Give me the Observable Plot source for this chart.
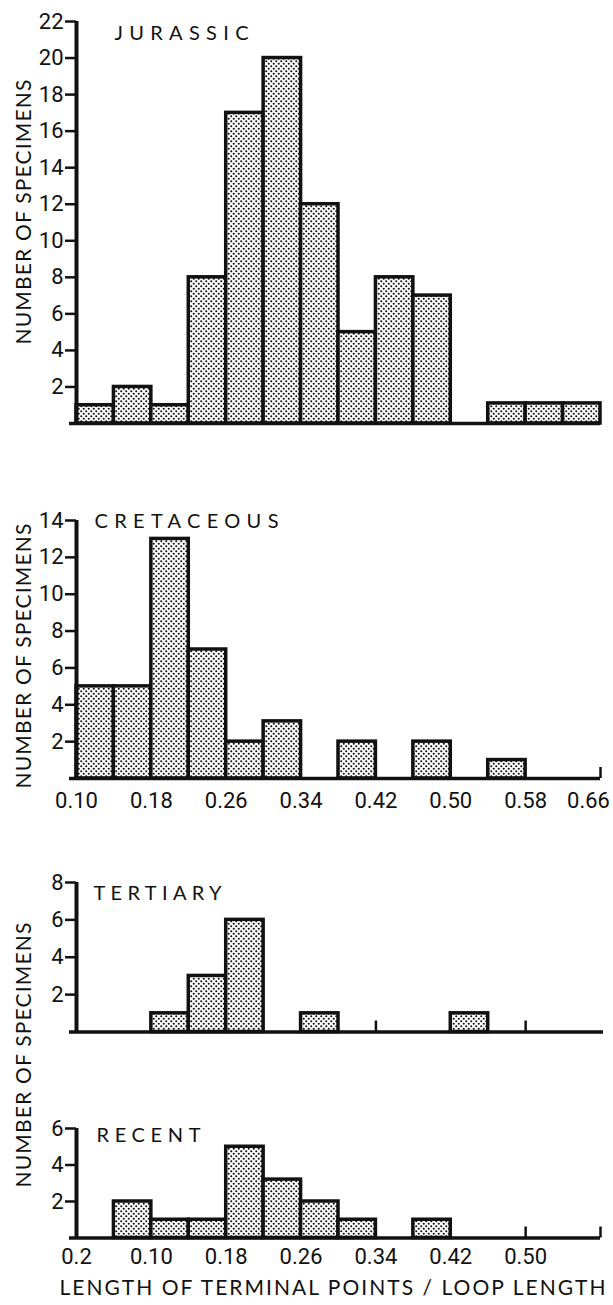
<!DOCTYPE html>
<html>
<head>
<meta charset="utf-8">
<script src="https://cdn.jsdelivr.net/npm/d3@7"></script>
<script src="https://cdn.jsdelivr.net/npm/@observablehq/plot@0.6"></script>
<style>
  html, body { margin: 0; padding: 0; background: #fff; }
  #page { position: relative; width: 613px; height: 1305px; overflow: hidden; background: #fff; }
  #page > svg { position: absolute; left: 0; }
</style>
</head>
<body>
<svg width="0" height="0" style="position:absolute">
  <defs>
    <pattern id="dots" width="5" height="5" patternUnits="userSpaceOnUse">
      <rect width="5" height="5" fill="#fff"></rect>
      <circle cx="1.25" cy="1.25" r="1.05" fill="#111"></circle>
      <circle cx="3.75" cy="3.75" r="1.05" fill="#111"></circle>
    </pattern>
  </defs>
</svg>
<div id="page"></div>
<script>
// ---------- data ----------
const binWidth = 0.04;
const upperBinStarts = [0.10, 0.14, 0.18, 0.22, 0.26, 0.30, 0.34, 0.38, 0.42, 0.46, 0.50, 0.54, 0.58, 0.62];
const lowerBinStarts = [0.02, 0.06, 0.10, 0.14, 0.18, 0.22, 0.26, 0.30, 0.34, 0.38, 0.42, 0.46, 0.50, 0.54];

const jurassicCounts   = [1, 2, 1, 8, 17, 20, 12, 5, 8, 7, 0, 1.1, 1.1, 1.1];
const cretaceousCounts = [5, 5, 13, 7, 2, 3.1, 0, 2, 0, 2, 0, 1, 0, 0];
const tertiaryCounts   = [0, 0, 1, 3, 6, 0, 1, 0, 0, 0, 1, 0, 0, 0];
const recentCounts     = [0, 2, 1, 1, 5, 3.2, 2, 1, 0, 1, 0, 0, 0, 0];

const jurassicYTicks   = [2, 4, 6, 8, 10, 12, 14, 16, 18, 20, 22];
const cretaceousYTicks = [2, 4, 6, 8, 10, 12, 14];
const tertiaryYTicks   = [2, 4, 6, 8];
const recentYTicks     = [2, 4, 6];

const upperXTicks      = [0.10, 0.18, 0.26, 0.34, 0.42, 0.50, 0.58, 0.66];
const upperXTickLabels = ["0.10", "0.18", "0.26", "0.34", "0.42", "0.50", "0.58", "0.66"];
const lowerXTicks      = [0.02, 0.10, 0.18, 0.26, 0.34, 0.42, 0.50];
const lowerXTickLabels = ["0.2", "0.10", "0.18", "0.26", "0.34", "0.42", "0.50"];

const cretaceousTickMarks = [0.66];
const tertiaryTickMarks   = [0.34, 0.50];
const recentTickMarks     = [0.50, 0.58];

const panelNames = ["JURASSIC", "CRETACEOUS", "TERTIARY", "RECENT"];
const yTitle = "NUMBER OF SPECIMENS";
const xTitle = "LENGTH OF TERMINAL POINTS / LOOP LENGTH";

// ---------- layout ----------
const numFont = 'Roboto, "Liberation Sans", sans-serif';
const textFont = 'Lato, "Open Sans", sans-serif';
const INK = "#111";

const panels = [
  { name: panelNames[0], starts: upperBinStarts, counts: jurassicCounts, domain: [0.10, 0.66],
    yMax: 22, yTicks: jurassicYTicks, top: 0, height: 445, mt: 21, mb: 22,
    nameDx: 38, nameDy: 4, nameLen: 134, tickMarks: [] },
  { name: panelNames[1], starts: upperBinStarts, counts: cretaceousCounts, domain: [0.10, 0.66],
    yMax: 14, yTicks: cretaceousYTicks, top: 480, height: 340, mt: 40, mb: 42,
    nameDx: 18, nameDy: -7, nameLen: 184, tickMarks: cretaceousTickMarks,
    xTicks: upperXTicks, xLabels: upperXTickLabels, xPad: 14, lastShift: -12 },
  { name: panelNames[2], starts: lowerBinStarts, counts: tertiaryCounts, domain: [0.02, 0.58],
    yMax: 8, yTicks: tertiaryYTicks, top: 860, height: 190, mt: 22, mb: 18.5,
    nameDx: 17, nameDy: 3, nameLen: 128, tickMarks: tertiaryTickMarks, baseRight: -3 },
  { name: panelNames[3], starts: lowerBinStarts, counts: recentCounts, domain: [0.02, 0.58],
    yMax: 6, yTicks: recentYTicks, top: 1100, height: 205, mt: 28, mb: 67.5,
    nameDx: 20, nameDy: -1, nameLen: 104, tickMarks: recentTickMarks,
    xTicks: lowerXTicks, xLabels: lowerXTickLabels, xPad: 10, xTitle: true }
];

const page = document.getElementById("page");

for (const cfg of panels) {
  const data = cfg.starts
    .map((s, i) => ({ x1: s, x2: s + binWidth, y: cfg.counts[i] }))
    .filter(d => d.y > 0);
  const pxPerUnit = (cfg.height - cfg.mt - cfg.mb) / cfg.yMax;
  const marks = [
    Plot.rectY(data, { x1: "x1", x2: "x2", y1: 0, y2: "y", fill: "url(#dots)", stroke: INK, strokeWidth: 3.5 }),
    Plot.ruleY([0], { stroke: INK, strokeWidth: 3.5, insetLeft: -7, insetRight: cfg.baseRight ?? 0 }),
    Plot.ruleX([cfg.domain[0]], { y1: 0, y2: cfg.yMax, stroke: INK, strokeWidth: 4 }),
    Plot.ruleX(cfg.tickMarks, { x: d => d, y1: 0, y2: 11 / pxPerUnit, stroke: INK, strokeWidth: 2.5 }),
    Plot.axisY({ ticks: cfg.yTicks, tickSize: 11, tickPadding: 2, stroke: INK, strokeWidth: 2.5,
                 fontSize: 22, fill: INK, label: null, tickFormat: d => String(d) }),
    Plot.text([cfg.name], { text: d => d, frameAnchor: "top-left", textAnchor: "start", lineAnchor: "top",
                 dx: cfg.nameDx, dy: cfg.nameDy, fontSize: 20, fontFamily: textFont, fill: INK })
  ];
  if (cfg.xTicks) {
    marks.push(Plot.axisX({ ticks: cfg.xTicks,
      tickFormat: d => cfg.xLabels[cfg.xTicks.findIndex(t => Math.abs(t - d) < 1e-9)],
      tickSize: 0, tickPadding: cfg.xPad, fontSize: 22, fill: INK, label: null }));
  }
  if (cfg.xTitle) {
    marks.push(Plot.text([xTitle], { text: d => d, frameAnchor: "bottom", textAnchor: "middle", lineAnchor: "top",
      dx: -6, dy: 42, fontSize: 21, fontFamily: textFont, fill: INK }));
  }
  const svg = Plot.plot({
    width: 613,
    height: cfg.height,
    marginLeft: 76,
    marginRight: 13,
    marginTop: cfg.mt,
    marginBottom: cfg.mb,
    style: { fontFamily: numFont, fontSize: "22px", background: "transparent", color: INK, overflow: "visible" },
    x: { domain: cfg.domain, axis: null },
    y: { domain: [0, cfg.yMax], axis: null },
    marks
  });
  svg.style.top = cfg.top + "px";
  svg.querySelectorAll('g[aria-label="rect"]').forEach(g => g.setAttribute("fill", "url(#dots)"));
  const textGroups = svg.querySelectorAll('g[aria-label="text"]');
  const nameText = textGroups[0] && textGroups[0].querySelector("text");
  if (nameText) { nameText.setAttribute("textLength", cfg.nameLen); nameText.setAttribute("lengthAdjust", "spacing"); }
  if (cfg.xTitle && textGroups[1]) {
    const t = textGroups[1].querySelector("text");
    t.setAttribute("textLength", 546); t.setAttribute("lengthAdjust", "spacing");
  }
  if (cfg.lastShift) {
    const lastLabel = cfg.xLabels[cfg.xLabels.length - 1];
    svg.querySelectorAll("text").forEach(t => {
      if (t.textContent === lastLabel) t.setAttribute("dx", cfg.lastShift);
    });
  }
  page.appendChild(svg);
}

// y-axis titles (rotated)
const overlay = d3.select(page).append("svg")
  .attr("width", 613).attr("height", 1305)
  .style("top", "0px").style("pointer-events", "none");
const yTitlePos = [212, 656, 1055];
overlay.selectAll("text").data(yTitlePos).join("text")
  .attr("transform", d => `translate(31,${d}) rotate(-90)`)
  .attr("text-anchor", "middle")
  .attr("font-family", textFont)
  .attr("font-size", 21)
  .attr("fill", INK)
  .attr("textLength", 265)
  .attr("lengthAdjust", "spacing")
  .text(yTitle);
</script>
</body>
</html>
